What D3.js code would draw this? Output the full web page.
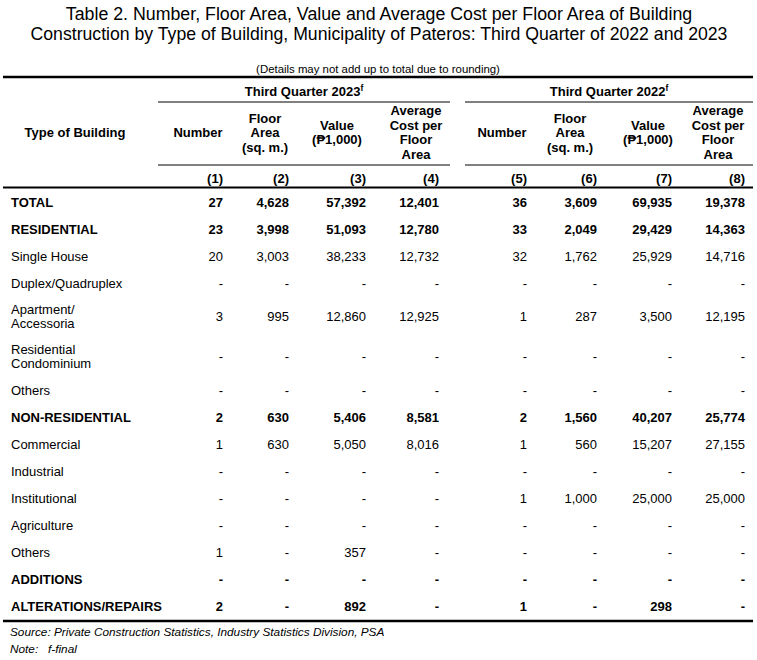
<!DOCTYPE html>
<html><head><meta charset="utf-8">
<script src="https://cdn.jsdelivr.net/npm/d3@7"></script>
<style>
html,body{margin:0;padding:0;background:#fff;}
svg{display:block;font-family:"Liberation Sans",Arial,sans-serif;}
</style></head>
<body><svg id="c" width="757" height="660"></svg>
<script>
// ---------- data ----------
const titleLines = [
  "Table 2. Number, Floor Area, Value and Average Cost per Floor Area of Building",
  "Construction by Type of Building, Municipality of Pateros: Third Quarter of 2022 and 2023"
];
const noteTop = "(Details may not add up to total due to rounding)";
const periods = ["Third Quarter 2023", "Third Quarter 2022"];
const periodSup = "f";
const colHeaders = [["Number"], ["Floor", "Area", "(sq. m.)"], ["Value", "(₱1,000)"], ["Average", "Cost per", "Floor", "Area"]];
const colNumbers = ["(1)", "(2)", "(3)", "(4)", "(5)", "(6)", "(7)", "(8)"];
const stubHeader = "Type of Building";
const categories = [
  ["TOTAL"], ["RESIDENTIAL"], ["Single House"], ["Duplex/Quadruplex"],
  ["Apartment/", "Accessoria"], ["Residential", "Condominium"], ["Others"],
  ["NON-RESIDENTIAL"], ["Commercial"], ["Industrial"], ["Institutional"],
  ["Agriculture"], ["Others"], ["ADDITIONS"], ["ALTERATIONS/REPAIRS"]
];
const boldRows = [true, true, false, false, false, false, false, true, false, false, false, false, false, true, true];
// Third Quarter 2023: Number, Floor Area, Value, Average Cost
const q2023 = [
  [27, 4628, 57392, 12401],
  [23, 3998, 51093, 12780],
  [20, 3003, 38233, 12732],
  [null, null, null, null],
  [3, 995, 12860, 12925],
  [null, null, null, null],
  [null, null, null, null],
  [2, 630, 5406, 8581],
  [1, 630, 5050, 8016],
  [null, null, null, null],
  [null, null, null, null],
  [null, null, null, null],
  [1, null, 357, null],
  [null, null, null, null],
  [2, null, 892, null]
];
// Third Quarter 2022
const q2022 = [
  [36, 3609, 69935, 19378],
  [33, 2049, 29429, 14363],
  [32, 1762, 25929, 14716],
  [null, null, null, null],
  [1, 287, 3500, 12195],
  [null, null, null, null],
  [null, null, null, null],
  [2, 1560, 40207, 25774],
  [1, 560, 15207, 27155],
  [null, null, null, null],
  [1, 1000, 25000, 25000],
  [null, null, null, null],
  [null, null, null, null],
  [null, null, null, null],
  [1, null, 298, null]
];
const sourceText = "Source: Private Construction Statistics, Industry Statistics Division, PSA";
const noteLabel = "Note:";
const noteText = "f-final";

// ---------- layout ----------
const svg = d3.select("#c");
const fmt = d3.format(",");
const FONT = "'Liberation Sans',Arial,sans-serif";
const L = 3, R = 753;
const colRight = d3.scaleOrdinal().domain(d3.range(8)).range([223, 289, 366, 439, 527, 597, 672, 745]);
const colCenter = d3.scaleOrdinal().domain(d3.range(8)).range([198, 265, 337, 416, 502, 570, 648, 718]);
const blocks = [[158, 450], [465, R]];

// title (horizontally condensed to the reference widths)
const titleWidths = [627, 697];
titleLines.forEach((t, i) => {
  const g = svg.append("g");
  const tx = g.append("text").attr("x", 0).attr("y", 0)
    .attr("text-anchor", "middle")
    .attr("font-family", FONT)
    .attr("font-size", 18.5)
    .attr("fill", "#000").text(t);
  const w = tx.node().getComputedTextLength();
  const sx = w > 0 ? titleWidths[i] / w : 1;
  g.attr("transform", `translate(379,${[20, 39.5][i]}) scale(${sx},1)`);
});
svg.append("text").attr("x", 378).attr("y", 73).attr("text-anchor", "middle")
  .attr("font-size", 11.4).attr("fill", "#000").text(noteTop);

function hline(y, x1, x2, w) {
  svg.append("line").attr("x1", x1).attr("x2", x2).attr("y1", y).attr("y2", y)
    .attr("stroke", "#000").attr("stroke-width", w);
}
hline(77, L, R, 2.5);
blocks.forEach(b => { hline(102, b[0], b[1], 1); hline(165, b[0], b[1], 1); });
hline(187.5, L, R, 1.8);

// period headers
periods.forEach((p, i) => {
  const cx = (blocks[i][0] + blocks[i][1]) / 2;
  const t = svg.append("text").attr("x", cx).attr("y", 95.5).attr("text-anchor", "middle")
    .attr("font-size", 13).attr("font-weight", "bold").attr("fill", "#000");
  t.append("tspan").text(p);
  t.append("tspan").attr("font-size", 8.5).attr("dy", -5).text(periodSup);
});

// stub header
svg.append("text").attr("x", 75).attr("y", 137).attr("text-anchor", "middle")
  .attr("font-size", 13).attr("font-weight", "bold").attr("fill", "#000").text(stubHeader);

// column headers
const lineGap = 14.5, midY = 132.5;
d3.range(8).forEach(c => {
  const lines = colHeaders[c % 4];
  const y0 = midY - (lines.length - 1) * lineGap / 2;
  lines.forEach((ln, k) => {
    svg.append("text").attr("x", colCenter(c)).attr("y", y0 + k * lineGap + 4.6)
      .attr("text-anchor", "middle").attr("font-size", 13).attr("font-weight", "bold")
      .attr("fill", "#000").text(ln);
  });
  svg.append("text").attr("x", colRight(c)).attr("y", 182.5).attr("text-anchor", "end")
    .attr("font-size", 13).attr("font-weight", "bold").attr("fill", "#000").text(colNumbers[c]);
});

// rows
const rowH = categories.map(c => c.length > 1 ? 40 : 27);
let acc = 188.5;
const rowCenters = rowH.map(h => { const c = acc + h / 2; acc += h; return c; });
const yRow = d3.scaleOrdinal().domain(d3.range(categories.length)).range(rowCenters);

categories.forEach((cat, r) => {
  const cy = yRow(r);
  const bold = boldRows[r] ? "bold" : "normal";
  const y0 = cy - (cat.length - 1) * 14 / 2;
  cat.forEach((ln, k) => {
    svg.append("text").attr("x", 11).attr("y", y0 + k * 14 + 4.7)
      .attr("font-size", 13).attr("font-weight", bold).attr("fill", "#000").text(ln);
  });
  const vals = q2023[r].concat(q2022[r]);
  vals.forEach((v, c) => {
    svg.append("text").attr("x", colRight(c)).attr("y", cy + 4.7).attr("text-anchor", "end")
      .attr("font-size", 13).attr("font-weight", bold).attr("fill", "#000")
      .text(v == null ? "-" : fmt(v));
  });
});

hline(621, L, R, 2.5);

svg.append("text").attr("x", 10).attr("y", 635.5).attr("font-size", 11.8).attr("font-style", "italic")
  .attr("fill", "#000").text(sourceText);
svg.append("text").attr("x", 10).attr("y", 652.5).attr("font-size", 11.8).attr("font-style", "italic")
  .attr("fill", "#000").text(noteLabel);
svg.append("text").attr("x", 48).attr("y", 652.5).attr("font-size", 11.8).attr("font-style", "italic")
  .attr("fill", "#000").text(noteText);
</script></body></html>
